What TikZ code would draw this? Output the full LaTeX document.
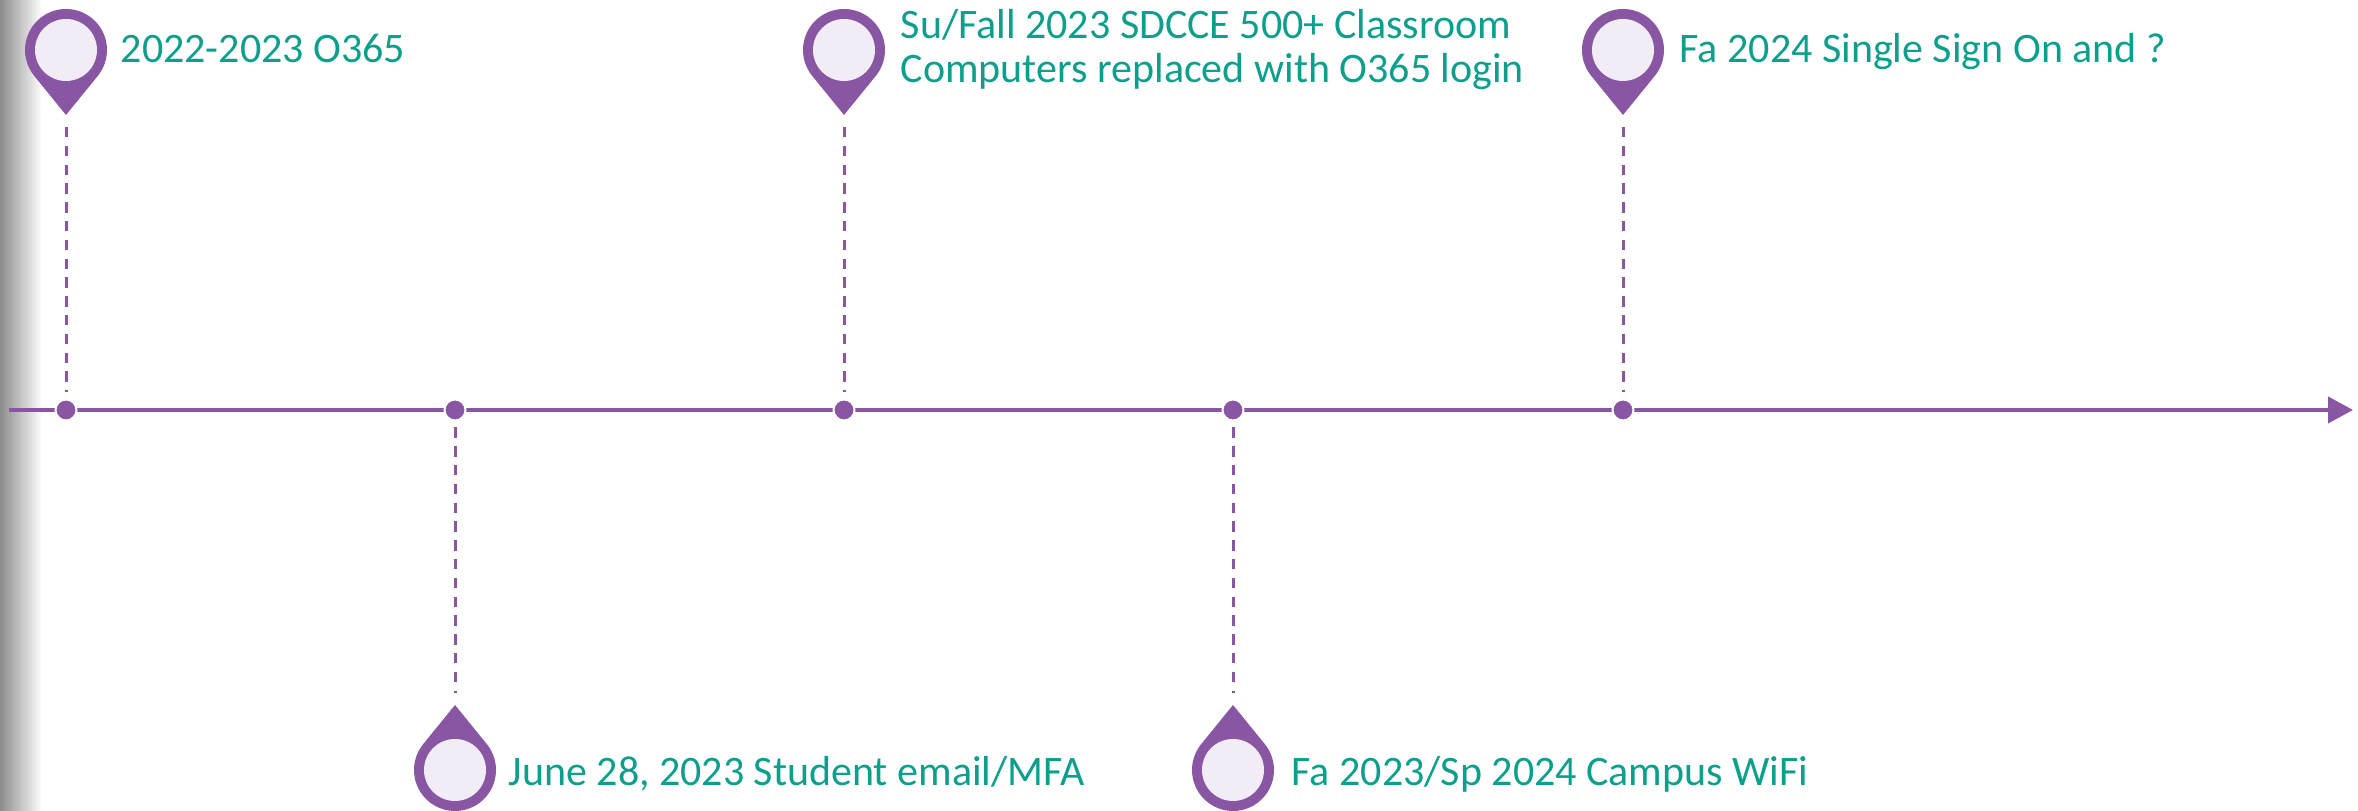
\documentclass[tikz,border=0pt]{standalone}
\usepackage{fontspec}
\setmainfont{Carlito}
\usetikzlibrary{arrows.meta,calc}
\definecolor{pinpurple}{RGB}{137,86,164}
\definecolor{pinfill}{RGB}{241,236,245}
\definecolor{tealtext}{RGB}{12,160,140}
\tikzset{
  axis/.style={draw=pinpurple, line width=1pt, -{Triangle[length=6.25pt,width=6.5pt]}},
  guide/.style={draw=pinpurple, line width=0.75pt, dash pattern=on 2.6pt off 2.1pt},
  dot/.style={circle, fill=pinpurple, draw=white, line width=0.5pt, inner sep=0pt, minimum size=5.25pt},
  label/.style={text=tealtext, font=\fontsize{10.5pt}{11pt}\selectfont, inner sep=0pt, anchor=base west},
}
\newcommand{\mypin}[3]{%
  \fill[pinpurple] (#1,#3) -- ($(#1,#2)+(219.1:10.25pt)$) arc[start angle=219.1, end angle=-39.1, radius=10.25pt] -- cycle;
  \fill[pinfill] (#1,#2) circle[radius=7.75pt];
}
\newcommand{\mypinup}[3]{%
  \fill[pinpurple] (#1,#3) -- ($(#1,#2)+(140.9:10.25pt)$) arc[start angle=140.9, end angle=399.1, radius=10.25pt] -- cycle;
  \fill[pinfill] (#1,#2) circle[radius=7.75pt];
}
\begin{document}
\begin{tikzpicture}[x=0.25pt, y=0.25pt]
\useasboundingbox (0,0) rectangle (2358,811);
\shade[left color=black!45, right color=white] (0,0) rectangle (42,811);

\coordinate (start) at (9,401);
\coordinate (end) at (2353,401);
\draw[axis] (start) -- (end);

\coordinate (t1) at (66,696);
\coordinate (t2) at (455,106);
\coordinate (t3) at (844,696);
\coordinate (t4) at (1233,106);
\coordinate (t5) at (1623,696);

\node[dot] (d1) at (66,401) {};
\node[dot] (d2) at (455,401) {};
\node[dot] (d3) at (844,401) {};
\node[dot] (d4) at (1233,401) {};
\node[dot] (d5) at (1623,401) {};

\draw[guide, shorten <=3pt, shorten >=1.5pt] (t1) -- (d1);
\draw[guide, shorten <=1.5pt, shorten >=3pt] (d2) -- (t2);
\draw[guide, shorten <=3pt, shorten >=1.5pt] (t3) -- (d3);
\draw[guide, shorten <=1.5pt, shorten >=3pt] (d4) -- (t4);
\draw[guide, shorten <=3pt, shorten >=1.5pt] (t5) -- (d5);

\mypin{66}{761}{696}
\mypin{844}{761}{696}
\mypin{1623}{761}{696}
\mypinup{455}{41}{106}
\mypinup{1233}{41}{106}

\node[label] (l1) at (120,748) {2022-2023 O365};
\node[label] (l3a) at (900,772) {Su/Fall 2023 SDCCE 500+ Classroom};
\node[label] (l3b) at (900,728) {Computers replaced with O365 login};
\node[label] (l5) at (1679,748) {Fa 2024 Single Sign On and ?};
\node[label] (l2) at (508,25) {June 28, 2023 Student email/MFA};
\node[label] (l4) at (1291,25) {Fa 2023/Sp 2024 Campus WiFi};
\end{tikzpicture}
\end{document}
